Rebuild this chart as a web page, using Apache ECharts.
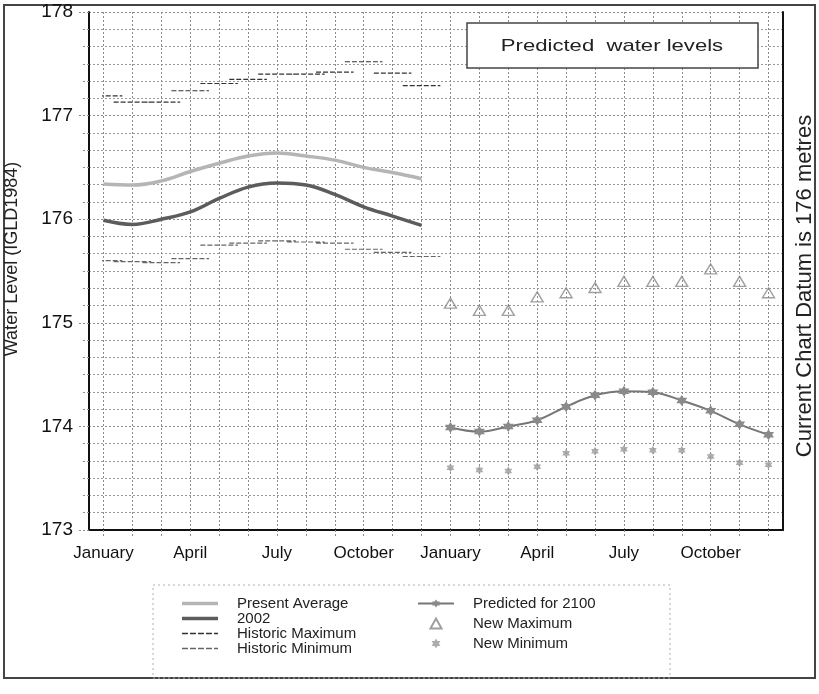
<!DOCTYPE html>
<html>
<head>
<meta charset="utf-8">
<script src="https://cdn.jsdelivr.net/npm/echarts@6/dist/echarts.min.js"></script>
<style>
  html, body { margin: 0; padding: 0; background: #fff; }
  #chart { width: 819px; height: 694px; }
</style>
</head>
<body>
<div id="chart"></div>
<script>
// two years of months on one axis, 0..23
const tickLabels = ['January', '', '', 'April', '', '', 'July', '', '', 'October', '', '',
  'January', '', '', 'April', '', '', 'July', '', '', 'October', '', ''];

// first year: present conditions
const presentAverage = [176.34, 176.33, 176.37, 176.46, 176.54, 176.61, 176.64, 176.61, 176.57, 176.50, 176.45, 176.39];
const level2002 = [175.99, 175.95, 176.00, 176.07, 176.20, 176.31, 176.35, 176.33, 176.24, 176.12, 176.03, 175.94];
const historicMax = [177.19, 177.13, 177.13, 177.24, 177.31, 177.35, 177.40, 177.40, 177.42, 177.52, 177.41, 177.29];
const historicMin = [175.60, 175.59, 175.58, 175.62, 175.75, 175.77, 175.79, 175.78, 175.77, 175.71, 175.68, 175.64];

// second year: 2100 prediction
const predicted2100 = [173.99, 173.95, 174.00, 174.06, 174.19, 174.30, 174.34, 174.33, 174.25, 174.15, 174.02, 173.92];
const newMaximum = [175.19, 175.12, 175.12, 175.25, 175.29, 175.34, 175.40, 175.40, 175.40, 175.52, 175.40, 175.29];
const newMinimum = [173.60, 173.58, 173.57, 173.61, 173.74, 173.76, 173.78, 173.77, 173.77, 173.71, 173.65, 173.63];

const starPath = 'path://M0,-10L2.9,-5L8.7,-5L5.8,0L8.7,5L2.9,5L0,10L-2.9,5L-8.7,5L-5.8,0L-8.7,-5L-2.9,-5Z';
const trianglePath = 'path://M5,0L10,9L0,9Z';
const solidIcon = 'path://M0,0H36V3.5H0Z';
const dashIcon = 'path://M0,0H6V1.4H0ZM8,0H14V1.4H8ZM16,0H22V1.4H16ZM24,0H30V1.4H24ZM32,0H36V1.4H32Z';
const FONT = 'Liberation Sans, Arial, sans-serif';

// short horizontal dashes centred on each month
function dashes(values, offset) {
  const out = [];
  values.forEach((v, i) => {
    out.push([i + offset - 0.65, v], [i + offset + 0.65, v], [i + offset + 0.65, null]);
  });
  return out;
}

const chart = echarts.init(document.getElementById('chart'));
const grid = { color: '#8c8c8c', type: [2, 2], width: 1 };
const legendText = { fontSize: 15, lineHeight: 12, color: '#222', fontFamily: FONT, padding: [0, 0, 0, 14] };

chart.setOption({
  animation: false,
  backgroundColor: '#fff',
  textStyle: { fontFamily: FONT },
  grid: [
    { left: 89, right: 36, top: 12, bottom: 164 },
    { left: 103.5, right: 50.5, top: 12, bottom: 164 }
  ],
  xAxis: [
    {
      gridIndex: 0, type: 'value', min: 0, max: 1,
      axisLine: { lineStyle: { color: '#111', width: 2 } },
      axisTick: { show: false }, axisLabel: { show: false }, splitLine: { show: false }
    },
    {
      gridIndex: 1, type: 'value', min: 0, max: 23, interval: 1,
      axisLine: { show: false },
      axisTick: { show: true, length: 8, lineStyle: grid },
      axisLabel: {
        formatter: v => tickLabels[v] || '',
        margin: 15, fontSize: 17, color: '#111', fontFamily: FONT
      },
      splitLine: { show: true, lineStyle: grid }
    }
  ],
  yAxis: [
    {
      gridIndex: 0, type: 'value', min: 173, max: 178, interval: 1,
      axisLine: { show: true, lineStyle: { color: '#111', width: 2 } },
      axisTick: { show: true, length: 12, lineStyle: grid },
      minorTick: { show: true, splitNumber: 6, length: 6, lineStyle: grid },
      splitLine: { show: true, lineStyle: grid },
      minorSplitLine: { show: true, lineStyle: { color: '#9a9a9a', type: [2, 2], width: 1 } },
      axisLabel: { fontSize: 19, margin: 16, color: '#111', fontFamily: FONT }
    },
    {
      gridIndex: 0, type: 'value', min: 173, max: 178, position: 'right',
      axisLine: { show: true, lineStyle: { color: '#111', width: 2 } },
      axisTick: { show: false }, axisLabel: { show: false }, splitLine: { show: false }
    },
    { gridIndex: 1, type: 'value', min: 173, max: 178, show: false }
  ],
  legend: [
    {
      left: 182, top: 596, orient: 'vertical', padding: 0, itemGap: 0,
      itemWidth: 36, itemHeight: 10, symbolKeepAspect: true,
      textStyle: legendText,
      data: [
        { name: 'Present Average', icon: solidIcon },
        { name: '2002', icon: solidIcon },
        { name: 'Historic Maximum', icon: dashIcon },
        { name: 'Historic Minimum', icon: dashIcon }
      ]
    },
    {
      left: 417, top: 596, orient: 'vertical', padding: 0, itemGap: 5,
      itemWidth: 36, itemHeight: 10, symbolKeepAspect: true,
      textStyle: legendText,
      data: ['Predicted for 2100', 'New Maximum', 'New Minimum']
    }
  ],
  graphic: [
    { type: 'rect', z: -1, shape: { x: 4, y: 5, width: 811, height: 673 },
      style: { fill: 'none', stroke: '#444', lineWidth: 2 } },
    { type: 'rect', z: -1, shape: { x: 153, y: 585, width: 517, height: 93 },
      style: { fill: 'none', stroke: '#b0b0b0', lineDash: [2, 3] } },
    { type: 'rect', z: 10, shape: { x: 467, y: 23, width: 291, height: 45 },
      style: { fill: '#fff', stroke: '#444', lineWidth: 1.5 } },
    { type: 'text', z: 11, x: 612, y: 46, scaleX: 1.3,
      style: { text: 'Predicted  water levels', fontSize: 17, fontFamily: FONT, fill: '#222',
        align: 'center', verticalAlign: 'middle' } },
    { type: 'text', z: 11, x: 12, y: 259, rotation: Math.PI / 2,
      style: { text: 'Water Level (IGLD1984)', fontSize: 18, fontFamily: FONT, fill: '#222',
        align: 'center', verticalAlign: 'middle' } },
    { type: 'text', z: 11, x: 805, y: 286, rotation: Math.PI / 2,
      style: { text: 'Current Chart Datum is 176 metres', fontSize: 22, fontFamily: FONT, fill: '#222',
        align: 'center', verticalAlign: 'middle' } }
  ],
  series: [
    {
      name: 'Present Average', type: 'line', xAxisIndex: 1, yAxisIndex: 2,
      data: presentAverage.map((v, i) => [i, v]), smooth: 0.4, symbol: 'none',
      lineStyle: { color: '#b5b5b5', width: 3.5 }, itemStyle: { color: '#b5b5b5' }
    },
    {
      name: '2002', type: 'line', xAxisIndex: 1, yAxisIndex: 2,
      data: level2002.map((v, i) => [i, v]), smooth: 0.4, symbol: 'none',
      lineStyle: { color: '#5c5c5c', width: 3.5 }, itemStyle: { color: '#5c5c5c' }
    },
    {
      name: 'Historic Maximum', type: 'line', xAxisIndex: 1, yAxisIndex: 2,
      data: dashes(historicMax, 0), symbol: 'none', connectNulls: false,
      lineStyle: { color: '#333', width: 1.2, type: [5, 2] }, itemStyle: { color: '#333' }
    },
    {
      name: 'Historic Minimum', type: 'line', xAxisIndex: 1, yAxisIndex: 2,
      data: dashes(historicMin, 0), symbol: 'none', connectNulls: false,
      lineStyle: { color: '#666', width: 1.2, type: [5, 2] }, itemStyle: { color: '#666' }
    },
    {
      name: 'Predicted for 2100', type: 'line', xAxisIndex: 1, yAxisIndex: 2,
      data: predicted2100.map((v, i) => [i + 12, v]), smooth: 0.4,
      symbol: starPath, symbolSize: 11, showSymbol: true,
      lineStyle: { color: '#777', width: 2 }, itemStyle: { color: '#8a8a8a' }
    },
    {
      name: 'New Maximum', type: 'scatter', xAxisIndex: 1, yAxisIndex: 2,
      data: newMaximum.map((v, i) => [i + 12, v]),
      symbol: trianglePath, symbolSize: [12, 11], symbolKeepAspect: true,
      itemStyle: { color: 'rgba(255,255,255,0)', borderColor: '#888', borderWidth: 1.4 }
    },
    {
      name: 'New Minimum', type: 'scatter', xAxisIndex: 1, yAxisIndex: 2,
      data: newMinimum.map((v, i) => [i + 12, v]),
      symbol: starPath, symbolSize: 9, symbolKeepAspect: true,
      itemStyle: { color: '#999' }
    }
  ]
});
</script>
</body>
</html>
